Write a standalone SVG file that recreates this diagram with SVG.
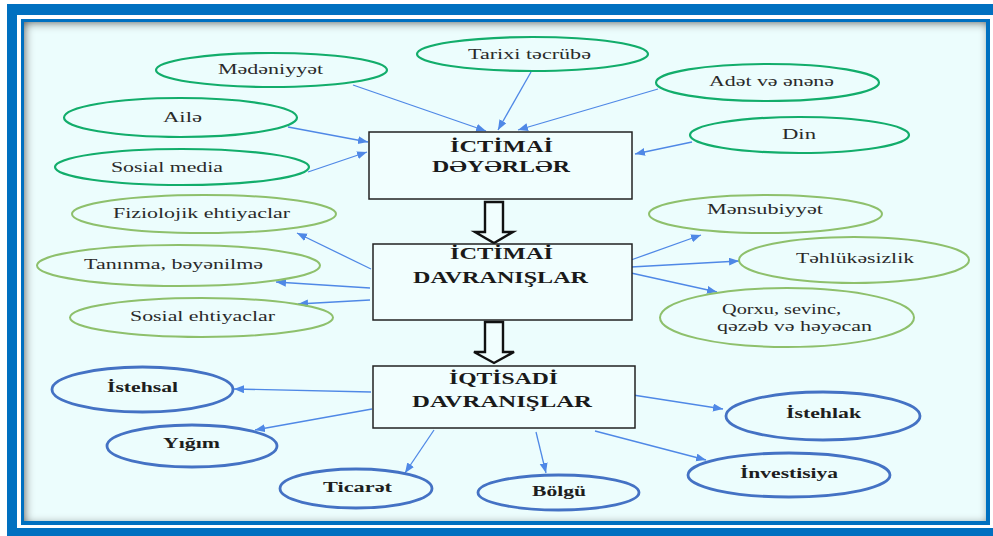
<svg xmlns="http://www.w3.org/2000/svg" width="993" height="536" viewBox="0 0 993 536">
<defs>
<filter id="inner" x="-5%" y="-5%" width="110%" height="110%">
<feFlood flood-color="#555" result="c"/>
<feComposite in="c" in2="SourceAlpha" operator="out" result="inv"/>
<feGaussianBlur in="inv" stdDeviation="4" result="b"/>
<feOffset in="b" dx="2" dy="2" result="o"/>
<feComposite in="o" in2="SourceAlpha" operator="in" result="s"/>
<feMerge><feMergeNode in="SourceGraphic"/><feMergeNode in="s"/></feMerge>
</filter>
<marker id="ah" markerUnits="userSpaceOnUse" markerWidth="12" markerHeight="10" refX="10" refY="4" orient="auto">
<path d="M0,0 L10,4 L0,8 Z" fill="#4f88e6"/>
</marker>
</defs>
<style>
.t{font-family:"Liberation Serif","Times New Roman",serif;fill:#2a2a2a;font-size:14px}
.b{font-family:"Liberation Serif","Times New Roman",serif;fill:#1e1e1e;font-size:14px;font-weight:bold}
.h{font-family:"Liberation Serif","Times New Roman",serif;fill:#1a1a1a;font-size:17px;font-weight:bold}
.eg{fill:none;stroke:#12ad6b;stroke-width:2.2}
.el{fill:none;stroke:#8ec06c;stroke-width:2}
.eb{fill:none;stroke:#4472c4;stroke-width:2.8}
.box{fill:#f1fefe;stroke:#222;stroke-width:1.5}
.c{stroke:#4f88e6;stroke-width:1.3;fill:none;marker-end:url(#ah)}
.ba{fill:#f1fefe;stroke:#111;stroke-width:2.4;stroke-linejoin:miter}
</style>
<rect x="0" y="0" width="993" height="536" fill="#ffffff"/>
<rect x="7" y="4" width="990" height="540" fill="#0070c0"/>
<rect x="17" y="15" width="980" height="513" fill="#ffffff"/>
<rect x="21" y="19" width="969" height="506" fill="#0070c0"/>
<rect x="24" y="22" width="962" height="499" fill="#ecfdfd" filter="url(#inner)"/>

<g id="connectors">
<line class="c" x1="353" y1="85" x2="486" y2="131"/>
<line class="c" x1="531" y1="72" x2="498" y2="130"/>
<line class="c" x1="658" y1="89" x2="518" y2="130"/>
<line class="c" x1="692" y1="142" x2="635" y2="154"/>
<line class="c" x1="288" y1="127" x2="368" y2="142"/>
<line class="c" x1="308" y1="172" x2="367" y2="152"/>
<line class="c" x1="371" y1="269" x2="297" y2="233"/>
<line class="c" x1="370" y1="288" x2="276" y2="282"/>
<line class="c" x1="370" y1="300" x2="298" y2="304"/>
<line class="c" x1="631" y1="260" x2="701" y2="235"/>
<line class="c" x1="631" y1="267" x2="739" y2="261"/>
<line class="c" x1="631" y1="273" x2="717" y2="292"/>
<line class="c" x1="371" y1="392" x2="234" y2="389"/>
<line class="c" x1="372" y1="409" x2="255" y2="430"/>
<line class="c" x1="434" y1="430" x2="405" y2="473"/>
<line class="c" x1="536" y1="432" x2="546" y2="473"/>
<line class="c" x1="633" y1="395" x2="723" y2="409"/>
<line class="c" x1="595" y1="431" x2="706" y2="460"/>
<polygon class="ba" points="485,202 503,202 503,232 513,232 494,243 475,232 485,232"/>
<polygon class="ba" points="485,322 503,322 503,352 514,352 494,363 474,352 485,352"/>
</g>

<g id="box-ictimai-deyerler">
<rect class="box" x="369" y="132" width="263" height="67"/>
<text class="h" x="450" y="152" textLength="103" lengthAdjust="spacingAndGlyphs">İCTİMAİ</text>
<text class="h" x="432" y="172" textLength="138" lengthAdjust="spacingAndGlyphs">DƏYƏRLƏR</text>
</g>
<g id="box-ictimai-davranislar">
<rect class="box" x="373" y="244" width="259" height="76"/>
<text class="h" x="450" y="259" textLength="103" lengthAdjust="spacingAndGlyphs">İCTİMAİ</text>
<text class="h" x="413" y="283" textLength="175" lengthAdjust="spacingAndGlyphs">DAVRANIŞLAR</text>
</g>
<g id="box-iqtisadi-davranislar">
<rect class="box" x="373" y="366" width="262" height="62"/>
<text class="h" x="449" y="384" textLength="109" lengthAdjust="spacingAndGlyphs">İQTİSADİ</text>
<text class="h" x="412" y="407" textLength="180" lengthAdjust="spacingAndGlyphs">DAVRANIŞLAR</text>
</g>

<g id="n-medeniyyet"><ellipse class="eg" cx="271.5" cy="70" rx="115.5" ry="17"/><text class="t" x="218" y="74" textLength="105" lengthAdjust="spacingAndGlyphs">Mədəniyyət</text></g>
<g id="n-tarixi"><ellipse class="eg" cx="532.5" cy="54" rx="115.5" ry="17"/><text class="t" x="468" y="59" textLength="123" lengthAdjust="spacingAndGlyphs">Tarixi təcrübə</text></g>
<g id="n-adet"><ellipse class="eg" cx="767.5" cy="82.5" rx="111.5" ry="18.5"/><text class="t" x="709" y="86" textLength="125" lengthAdjust="spacingAndGlyphs">Adət və ənənə</text></g>
<g id="n-din"><ellipse class="eg" cx="799.5" cy="135" rx="109.5" ry="18"/><text class="t" x="782" y="139" textLength="34" lengthAdjust="spacingAndGlyphs">Din</text></g>
<g id="n-aile"><ellipse class="eg" cx="180.5" cy="117.5" rx="116.5" ry="19.5"/><text class="t" x="163" y="122" textLength="39" lengthAdjust="spacingAndGlyphs">Ailə</text></g>
<g id="n-sosial-media"><ellipse class="eg" cx="182" cy="167" rx="127" ry="18"/><text class="t" x="111" y="172" textLength="112" lengthAdjust="spacingAndGlyphs">Sosial media</text></g>

<g id="n-fizioloji"><ellipse class="el" cx="204" cy="214" rx="132" ry="19"/><text class="t" x="113" y="218" textLength="177" lengthAdjust="spacingAndGlyphs">Fiziolojik ehtiyaclar</text></g>
<g id="n-taninma"><ellipse class="el" cx="178.5" cy="265.5" rx="141.5" ry="20.5"/><text class="t" x="84" y="269" textLength="179" lengthAdjust="spacingAndGlyphs">Tanınma, bəyənilmə</text></g>
<g id="n-sosial-ehtiyac"><ellipse class="el" cx="201.5" cy="317.5" rx="131.5" ry="19.5"/><text class="t" x="130" y="321" textLength="145" lengthAdjust="spacingAndGlyphs">Sosial ehtiyaclar</text></g>
<g id="n-mensubiyyet"><ellipse class="el" cx="765.5" cy="214" rx="116.5" ry="19"/><text class="t" x="707" y="214" textLength="116" lengthAdjust="spacingAndGlyphs">Mənsubiyyət</text></g>
<g id="n-tehlukesizlik"><ellipse class="el" cx="854" cy="260" rx="115" ry="23"/><text class="t" x="796" y="263" textLength="118" lengthAdjust="spacingAndGlyphs">Təhlükəsizlik</text></g>
<g id="n-qorxu"><ellipse class="el" cx="787" cy="317.5" rx="127" ry="29.5"/><text class="t" x="722" y="314" textLength="119" lengthAdjust="spacingAndGlyphs">Qorxu, sevinc,</text><text class="t" x="717" y="331" textLength="155" lengthAdjust="spacingAndGlyphs">qəzəb və həyəcan</text></g>

<g id="n-istehsal"><ellipse class="eb" cx="142.5" cy="389.5" rx="90.5" ry="22.5"/><text class="b" x="107" y="392" textLength="71" lengthAdjust="spacingAndGlyphs">İstehsal</text></g>
<g id="n-yigim"><ellipse class="eb" cx="192" cy="446" rx="85" ry="21"/><text class="b" x="163" y="448" textLength="57" lengthAdjust="spacingAndGlyphs">Yığım</text></g>
<g id="n-ticaret"><ellipse class="eb" cx="356" cy="488.5" rx="76" ry="19.5"/><text class="b" x="323" y="492" textLength="69" lengthAdjust="spacingAndGlyphs">Ticarət</text></g>
<g id="n-bolgu"><ellipse class="eb" cx="558.5" cy="492.5" rx="80.5" ry="17.5"/><text class="b" x="532" y="496" textLength="54" lengthAdjust="spacingAndGlyphs">Bölgü</text></g>
<g id="n-istehlak"><ellipse class="eb" cx="823" cy="416" rx="97" ry="24"/><text class="b" x="786" y="418" textLength="75" lengthAdjust="spacingAndGlyphs">İstehlak</text></g>
<g id="n-investisiya"><ellipse class="eb" cx="789" cy="475" rx="101" ry="22"/><text class="b" x="740" y="478" textLength="98" lengthAdjust="spacingAndGlyphs">İnvestisiya</text></g>
</svg>
